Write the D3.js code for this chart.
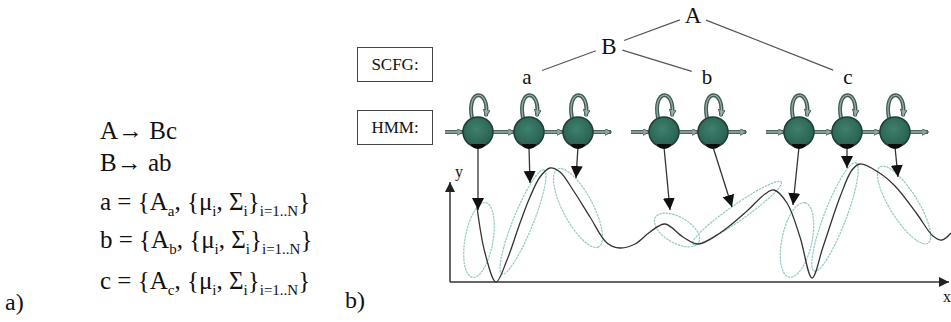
<!DOCTYPE html>
<html>
<head>
<meta charset="utf-8">
<script src="https://cdn.jsdelivr.net/npm/d3@7"></script>
<style>
  html, body { margin: 0; padding: 0; background: #fff; }
  svg { display: block; }
</style>
</head>
<body>
<svg id="fig" width="951" height="322"></svg>
<script>
// ---- grammar rules (panel a) ----
const ruleLines = [
  [{t: "A\u2192 Bc"}],
  [{t: "B\u2192 ab"}],
  [{t: "a = {A"}, {t: "a", sub: true}, {t: ", {\u03BC"}, {t: "i", sub: true}, {t: ", \u03A3"}, {t: "i", sub: true}, {t: "}"}, {t: "i=1..N", sub: true}, {t: "}"}],
  [{t: "b = {A"}, {t: "b", sub: true}, {t: ", {\u03BC"}, {t: "i", sub: true}, {t: ", \u03A3"}, {t: "i", sub: true}, {t: "}"}, {t: "i=1..N", sub: true}, {t: "}"}],
  [{t: "c = {A"}, {t: "c", sub: true}, {t: ", {\u03BC"}, {t: "i", sub: true}, {t: ", \u03A3"}, {t: "i", sub: true}, {t: "}"}, {t: "i=1..N", sub: true}, {t: "}"}]
];

// ---- parse tree (SCFG) ----
const treeLabels = ["A", "B", "a", "b", "c"];
const treeX = [243, 159, 77, 257, 398];
const treeY = [267, 236, 206, 206, 206];
const treeEdges = [[0, 1], [0, 4], [1, 2], [1, 3]];

// ---- HMM states per terminal ----
const stateGroups = ["a", "a", "a", "b", "b", "c", "c", "c"];
const stateX = [28, 79, 128, 214, 263, 349, 397, 445];
const stateY = 150;
// where each state's emission arrow ends
const emitTipX = [28, 80, 126, 220, 282, 343, 397, 448];
const emitTipY = [72, 99, 104, 72, 75, 77, 114, 105];

// ---- observation trajectory y(x) ----
const curveX = [27, 35, 46, 57, 70, 80, 90, 100, 110, 123, 140, 157, 170, 185, 200, 215, 233, 248, 270, 297, 315, 324, 337, 350, 362, 373, 390, 402, 410, 428, 445, 467, 483, 492, 501];
const curveY = [75, 29, 0, 22, 59, 85, 105, 114, 110, 92, 65, 39, 34, 38, 50, 58, 45, 38, 49, 71, 88, 92, 79, 45, 4, 35, 85, 112, 118, 110, 96, 68, 46, 42, 49];

// ---- Gaussian components along the trajectory ----
const gaussCx = [29, 73, 128, 227, 287, 347, 385, 454];
const gaussCy = [42, 60, 74, 52, 69, 42, 65, 77];
const gaussRx = [38, 56, 44, 25, 54, 38, 58, 45];
const gaussRy = [14, 10, 15, 13, 8, 15, 11, 14];
const gaussAngle = [-80, -68, 62, 30, -35, -78, -69, 58];

const svg = d3.select("#fig");
const serif = "'Liberation Serif', 'Times New Roman', 'DejaVu Serif', serif";

// pixel mapping for panel b: origin of the x/y axes
const x = d3.scaleLinear().domain([0, 500]).range([450, 950]);
const y = d3.scaleLinear().domain([0, 282]).range([282, 0]);

// ---- markers ----
const defs = svg.append("defs");
defs.append("marker")
  .attr("id", "tri").attr("viewBox", "0 0 10 10")
  .attr("refX", 10).attr("refY", 5)
  .attr("markerUnits", "userSpaceOnUse")
  .attr("markerWidth", 12).attr("markerHeight", 13)
  .attr("orient", "auto")
  .append("path").attr("d", "M0,0 L10,5 L0,10 Z").attr("fill", "#111");
defs.append("marker")
  .attr("id", "axisTri").attr("viewBox", "0 0 10 10")
  .attr("refX", 10).attr("refY", 5)
  .attr("markerUnits", "userSpaceOnUse")
  .attr("markerWidth", 13).attr("markerHeight", 10)
  .attr("orient", "auto")
  .append("path").attr("d", "M0,0 L10,5 L0,10 Z").attr("fill", "#222");
defs.append("marker")
  .attr("id", "tube").attr("viewBox", "0 0 10 10")
  .attr("refX", 9).attr("refY", 5)
  .attr("markerUnits", "userSpaceOnUse")
  .attr("markerWidth", 7).attr("markerHeight", 7)
  .attr("orient", "auto")
  .append("path").attr("d", "M0,0 L10,5 L0,10 Z")
  .attr("fill", "#8fa59e").attr("stroke", "#3b5750").attr("stroke-width", 1.2);
const grad = defs.append("radialGradient").attr("id", "stateFill")
  .attr("cx", "45%").attr("cy", "40%").attr("r", "60%");
grad.append("stop").attr("offset", "0%").attr("stop-color", "#3f806d");
grad.append("stop").attr("offset", "100%").attr("stop-color", "#285f50");

// ---- panel a: rules ----
const ruleBase = [139, 171, 210, 248, 289];
const ruleG = svg.append("g");
ruleLines.forEach((segs, i) => {
  const t = ruleG.append("text")
    .attr("x", 100).attr("y", ruleBase[i])
    .attr("font-family", serif).attr("font-size", 25).attr("fill", "#111");
  let down = false;
  segs.forEach(s => {
    const ts = t.append("tspan").text(s.t);
    if (s.sub && !down) { ts.attr("dy", 6).attr("font-size", 15); down = true; }
    else if (s.sub) { ts.attr("font-size", 15); }
    else if (down) { ts.attr("dy", -6); down = false; }
  });
});
svg.append("text").attr("x", 5).attr("y", 310)
  .attr("font-family", serif).attr("font-size", 24).attr("fill", "#111").text("a)");
svg.append("text").attr("x", 345).attr("y", 308)
  .attr("font-family", serif).attr("font-size", 24).attr("fill", "#111").text("b)");

// ---- panel b: row labels ----
[["SCFG:", 47], ["HMM:", 110]].forEach(([lab, top]) => {
  svg.append("rect").attr("x", 357.5).attr("y", top + 0.5).attr("width", 75).attr("height", 34)
    .attr("fill", "none").attr("stroke", "#444").attr("stroke-width", 1);
  svg.append("text").attr("x", 395).attr("y", top + 23)
    .attr("text-anchor", "middle").attr("font-family", serif).attr("font-size", 17)
    .attr("fill", "#111").text(lab);
});

// ---- parse tree ----
const treeG = svg.append("g");
treeEdges.forEach(([p, c]) => {
  const x1 = x(treeX[p]), y1 = y(treeY[p]), x2 = x(treeX[c]), y2 = y(treeY[c]);
  const d = Math.hypot(x2 - x1, y2 - y1), ux = (x2 - x1) / d, uy = (y2 - y1) / d;
  treeG.append("line")
    .attr("x1", x1 + ux * 14).attr("y1", y1 + uy * 14)
    .attr("x2", x2 - ux * 16).attr("y2", y2 - uy * 16)
    .attr("stroke", "#555").attr("stroke-width", 1.2);
});
treeLabels.forEach((lab, i) => {
  treeG.append("text").attr("x", x(treeX[i])).attr("y", y(treeY[i]) + 8)
    .attr("text-anchor", "middle").attr("font-family", serif)
    .attr("font-size", i < 2 ? 23 : 21).attr("fill", "#111").text(lab);
});

// ---- axes ----
svg.append("line")
  .attr("x1", x(0)).attr("y1", y(0)).attr("x2", x(499)).attr("y2", y(0))
  .attr("stroke", "#333").attr("stroke-width", 1.5).attr("marker-end", "url(#axisTri)");
svg.append("line")
  .attr("x1", x(0)).attr("y1", y(0)).attr("x2", x(0)).attr("y2", y(100))
  .attr("stroke", "#333").attr("stroke-width", 1.5).attr("marker-end", "url(#axisTri)");
svg.append("text").attr("x", x(5)).attr("y", y(105))
  .attr("font-family", serif).attr("font-size", 16).attr("fill", "#111").text("y");
svg.append("text").attr("x", x(493)).attr("y", y(-20))
  .attr("font-family", serif).attr("font-size", 16).attr("fill", "#111").text("x");

// ---- Gaussian ellipses ----
const gG = svg.append("g");
gaussCx.forEach((cx, i) => {
  gG.append("ellipse")
    .attr("transform", `translate(${x(cx)},${y(gaussCy[i])}) rotate(${gaussAngle[i]})`)
    .attr("rx", gaussRx[i]).attr("ry", gaussRy[i])
    .attr("fill", "none").attr("stroke", "#92cbc5").attr("stroke-width", 1.2)
    .attr("stroke-dasharray", "2.5,0.8");
});

// ---- trajectory ----
svg.append("path")
  .datum(curveX.map((v, i) => [v, curveY[i]]))
  .attr("d", d3.line().x(d => x(d[0])).y(d => y(d[1])).curve(d3.curveCatmullRom.alpha(0.5)))
  .attr("fill", "none").attr("stroke", "#333").attr("stroke-width", 1.3);

// ---- HMM chains ----
const chainG = svg.append("g");
const groups = d3.groups(stateX.map((v, i) => ({x: v, g: stateGroups[i], i})), d => d.g);
const R = 15;
function tube(x1, x2, yy) {
  const sel = chainG.append("g");
  sel.append("line").attr("x1", x1).attr("x2", x2).attr("y1", yy).attr("y2", yy)
    .attr("stroke", "#4a665e").attr("stroke-width", 4).attr("marker-end", "url(#tube)");
  sel.append("line").attr("x1", x1).attr("x2", x2 - 6).attr("y1", yy).attr("y2", yy)
    .attr("stroke", "#a6b9b2").attr("stroke-width", 1.3);
}
groups.forEach(([g, states]) => {
  const yy = y(stateY);
  const first = x(states[0].x), last = x(states[states.length - 1].x);
  tube(first - R - 18, first - R, yy);
  for (let k = 0; k < states.length - 1; k++) tube(x(states[k].x) + R, x(states[k + 1].x) - R, yy);
  tube(last + R, last + R + 18, yy);
});
// emission arrows
stateX.forEach((sx, i) => {
  chainG.append("line")
    .attr("x1", x(sx)).attr("y1", y(stateY) + R)
    .attr("x2", x(emitTipX[i])).attr("y2", y(emitTipY[i]))
    .attr("stroke", "#333").attr("stroke-width", 1.3).attr("marker-end", "url(#tri)");
});
// states with self-loops
stateX.forEach(sx => {
  const cx = x(sx), cy = y(stateY);
  const loop = `M${cx - 6},${cy - R + 1} C${cx - 12},${cy - 44} ${cx + 12},${cy - 44} ${cx + 8},${cy - R - 1}`;
  chainG.append("path").attr("d", loop).attr("fill", "none")
    .attr("stroke", "#3f5c54").attr("stroke-width", 4).attr("marker-end", "url(#tube)");
  chainG.append("path").attr("d", loop).attr("fill", "none")
    .attr("stroke", "#9fb3ac").attr("stroke-width", 1.2);
  chainG.append("circle").attr("cx", cx).attr("cy", cy).attr("r", R)
    .attr("fill", "url(#stateFill)").attr("stroke", "#1e3d34").attr("stroke-width", 1.5);
  chainG.append("path")
    .attr("d", `M${cx - 7},${cy + R - 3} A7,5 0 0 0 ${cx + 7},${cy + R - 3} Z`)
    .attr("fill", "#0c0c0c");
});
</script>
</body>
</html>
